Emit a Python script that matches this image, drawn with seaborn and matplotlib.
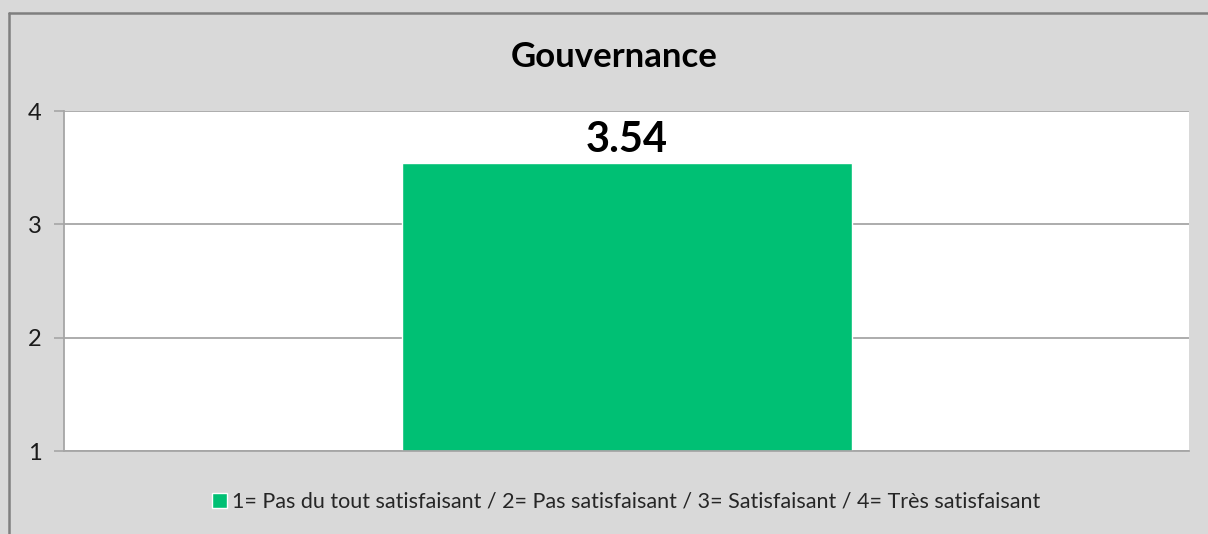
import numpy as np
import pandas as pd
import matplotlib
matplotlib.use("Agg")
import matplotlib.pyplot as plt
import seaborn as sns
from matplotlib.patches import Rectangle
from matplotlib.lines import Line2D

# data
categories = ["Gouvernance"]
scores = [3.54]
legend_label = "1= Pas du tout satisfaisant / 2= Pas satisfaisant / 3= Satisfaisant / 4= Très satisfaisant"
y_ticks = [1, 2, 3, 4]

sns.set_style("white")
plt.rcParams['font.family'] = ['Lato', 'DejaVu Sans']

df = pd.DataFrame({"cat": categories, "score": scores})

BG = "#d9d9d9"
GRID = "#a6a6a6"
GREEN = "#00c074"
W, H = 1208, 534

fig = plt.figure(figsize=(W / 100, H / 100), dpi=100, facecolor=BG)
# outer border: only top and left edges are visible in the reference
fig.lines.append(Line2D([8.5 / W, 1], [1 - 12.5 / H, 1 - 12.5 / H], transform=fig.transFigure,
                        color="#7f7f7f", linewidth=1.8))
fig.lines.append(Line2D([9 / W, 9 / W], [0, 1 - 12.5 / H], transform=fig.transFigure,
                        color="#7f7f7f", linewidth=1.8))

ax = fig.add_axes([64 / W, 1 - 451 / H, (1189 - 64) / W, (451 - 111) / H])
ax.set_facecolor("white")

sns.barplot(data=df, x="cat", y="score", color=GREEN, width=0.4, saturation=1, ax=ax)
ax.set_ylim(1, 4)
ax.set_xlim(-0.5, 0.5)
ax.set_yticks(y_ticks)
ax.set_yticklabels([str(t) for t in y_ticks], fontsize=17, color="#1a1a1a")
ax.tick_params(axis="y", length=7, width=1.2, color=GRID, pad=9, left=True)
ax.set_xticks([])
ax.set_xlabel("")
ax.set_ylabel("")
ax.yaxis.grid(True, color=GRID, linewidth=1.3)
ax.set_axisbelow(True)
for side in ["top", "right"]:
    ax.spines[side].set_visible(False)
for side in ["left", "bottom"]:
    ax.spines[side].set_color(GRID)
    ax.spines[side].set_linewidth(1.3)

for i, v in enumerate(scores):
    ax.annotate(f"{v:.2f}", xy=(i, 4), xytext=(0, -21), textcoords="offset points",
                ha="center", va="center", fontsize=30, fontweight="bold", color="black")

fig.text(614 / W, 1 - 57 / H, "Gouvernance", ha="center", va="center", fontsize=25,
         fontweight="bold", color="black")

handle = Rectangle((0, 0), 1, 1, facecolor=GREEN)
fig.legend([handle], [legend_label], loc="center", bbox_to_anchor=(626 / W, 1 - 502 / H),
           frameon=False, fontsize=15.5, handlelength=0.7, handleheight=0.7, handletextpad=0.25)

fig.savefig("out.png", dpi=100, facecolor=BG)
